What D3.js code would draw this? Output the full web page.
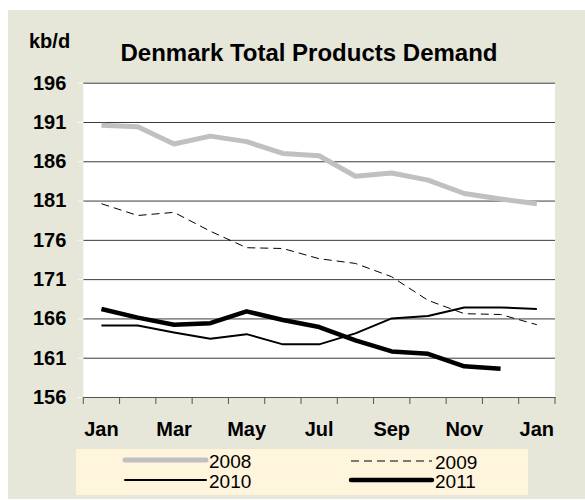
<!DOCTYPE html>
<html>
<head>
<meta charset="utf-8">
<script src="https://cdn.jsdelivr.net/npm/d3@7"></script>
<style>
  body { margin: 0; background: #fff; }
  svg text { font-family: "Liberation Sans", Arial, sans-serif; }
</style>
</head>
<body>
<div class="chart"></div>
<script>

// data
var months = ['Jan','Feb','Mar','Apr','May','Jun','Jul','Aug','Sep','Oct','Nov','Dec','Jan']
var shownMonths = [0, 2, 4, 6, 8, 10, 12]
var yTicks = [156, 161, 166, 171, 176, 181, 186, 191, 196]

var years = ['2008', '2009', '2010', '2011']
var d2008 = [190.6, 190.4, 188.2, 189.2, 188.5, 187.0, 186.7, 184.1, 184.5, 183.6, 181.9, 181.2, 180.6]
var d2009 = [180.6, 179.1, 179.5, 177.1, 175.0, 174.9, 173.6, 173.0, 171.3, 168.3, 166.6, 166.5, 165.2]
var d2010 = [165.1, 165.1, 164.2, 163.4, 164.0, 162.7, 162.7, 164.1, 166.0, 166.3, 167.4, 167.4, 167.2]
var d2011 = [167.2, 166.1, 165.2, 165.4, 166.9, 165.8, 164.9, 163.2, 161.8, 161.5, 159.9, 159.6]

var seriesData = [d2008, d2009, d2010, d2011]

// line styles per year
var styles = {
    '2008': {stroke: '#c0c0c0', width: 5, dash: null},
    '2009': {stroke: '#000', width: 1, dash: '8,5'},
    '2010': {stroke: '#000', width: 2, dash: null},
    '2011': {stroke: '#000', width: 4.5, dash: null}
}

// MARGINS
var W = 585, H = 500
var margin = {top: 82.7, right: 30, bottom: 103, left: 83.3}
var width = W - margin.left - margin.right
var height = H - margin.top - margin.bottom

var root = d3.select('.chart').append('svg')
    .attr('width', W)
    .attr('height', H)

// beige panel behind everything
root.append('rect')
    .attr('x', 8).attr('y', 10)
    .attr('width', W - 8).attr('height', 489)
    .attr('fill', '#e6e6d9')

var svg = root.append('g')
    .attr('transform', 'translate(' + margin.left + ',' + margin.top + ')')

svg.append('rect')
    .attr('width', width)
    .attr('height', height)
    .attr('fill', '#fff')

// SCALES
var xScale = d3.scaleBand()
    .domain(d3.range(months.length))
    .range([0, width])
    .padding(0)

var yScale = d3.scaleLinear()
    .domain([156, 196])
    .range([height, 0])

var xMid = function(i){ return xScale(i) + xScale.bandwidth() / 2 }

// gridlines
svg.append('g')
    .attr('class', 'grid')
    .call(d3.axisLeft(yScale).tickValues(yTicks).tickSize(-width).tickFormat(''))
    .call(function(g){ g.select('.domain').remove() })
    .selectAll('line')
        .attr('stroke', '#3a3a3a')

// y axis
var yAx = svg.append('g')
    .attr('class', 'y axis')
    .call(d3.axisLeft(yScale).tickValues(yTicks).tickSize(6).tickPadding(11))
yAx.select('.domain').remove()
yAx.selectAll('line').attr('stroke', '#f8f8f4')
yAx.selectAll('text')
    .style('font-size', '20px')
    .style('font-weight', 'bold')
    .attr('fill', '#000')

// x axis: labels at band centres, ticks at band edges
var xAx = svg.append('g')
    .attr('class', 'x axis')
    .attr('transform', 'translate(0,' + height + ')')
    .call(d3.axisBottom(xScale).tickSize(0).tickPadding(25)
        .tickFormat(function(i){ return shownMonths.indexOf(i) >= 0 ? months[i] : '' }))
xAx.select('.domain').attr('stroke', '#555')
xAx.selectAll('text')
    .style('font-size', '20px')
    .style('font-weight', 'bold')
    .attr('fill', '#000')

var edges = d3.range(months.length + 1)
xAx.selectAll('.edge')
    .data(edges)
    .enter().append('line')
        .attr('class', 'edge')
        .attr('x1', function(i){ return i * xScale.step() })
        .attr('x2', function(i){ return i * xScale.step() })
        .attr('y1', 0)
        .attr('y2', 7)
        .attr('stroke', '#555')

// LINES
var line = d3.line()
    .x(function(d, i){ return xMid(i) })
    .y(function(d){ return yScale(d) })

svg.selectAll('.series')
    .data(years)
    .enter().append('path')
        .attr('class', 'series')
        .attr('d', function(y, k){ return line(seriesData[k]) })
        .attr('fill', 'none')
        .attr('stroke', function(y){ return styles[y].stroke })
        .attr('stroke-width', function(y){ return styles[y].width })
        .attr('stroke-dasharray', function(y){ return styles[y].dash })
        .attr('stroke-linejoin', 'round')

// titles
root.append('text')
    .attr('x', 29).attr('y', 48)
    .style('font-size', '20px').style('font-weight', 'bold')
    .text('kb/d')

root.append('text')
    .attr('x', 309).attr('y', 61)
    .attr('text-anchor', 'middle')
    .style('font-size', '24px').style('font-weight', 'bold')
    .text('Denmark Total Products Demand')

// LEGEND
var legend = root.append('g').attr('class', 'legend')
legend.append('rect')
    .attr('x', 76).attr('y', 449)
    .attr('width', 452).attr('height', 46)
    .attr('fill', '#fff4dc')

var legPos = [{x: 125, y: 460}, {x: 351, y: 461}, {x: 125, y: 480}, {x: 351, y: 480}]

var items = legend.selectAll('.item')
    .data(years)
    .enter().append('g')
        .attr('class', 'item')
        .attr('transform', function(y, k){ return 'translate(' + legPos[k].x + ',' + legPos[k].y + ')' })

items.append('line')
    .attr('x1', 0).attr('x2', 81)
    .attr('stroke', function(y){ return styles[y].stroke })
    .attr('stroke-width', function(y){ return styles[y].width })
    .attr('stroke-dasharray', function(y){ return styles[y].dash })
    .attr('stroke-linecap', function(y){ return styles[y].dash ? 'butt' : 'round' })

items.append('text')
    .attr('x', 84).attr('y', 7.5)
    .style('font-size', '19px')
    .text(function(y){ return y })

</script>
</body>
</html>
